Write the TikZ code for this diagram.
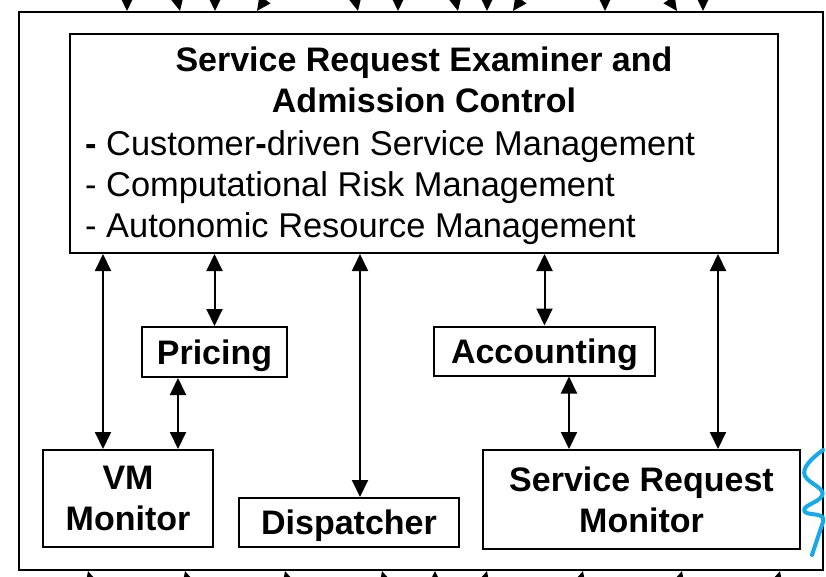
\documentclass[tikz,border=0pt]{standalone}
\usepackage{fontspec}
\setmainfont{Liberation Sans}
\usepackage{tikz}
\usetikzlibrary{arrows.meta,calc}
\definecolor{penblue}{RGB}{20,170,235}
\newcommand{\bigtext}{\fontsize{34}{41}\selectfont}
\tikzset{
  unit/.style={rectangle,draw,line width=2pt,align=center,
    inner sep=0pt,font=\bigtext\bfseries},
  oneline/.style={text height=24.5pt,text depth=0pt},
  frame/.style={rectangle,draw,line width=2pt,inner sep=0pt},
  plain/.style={inner sep=0pt,font=\bigtext},
  twoway/.style={{Triangle[length=17pt,width=16pt]}-{Triangle[length=17pt,width=16pt]},
    line width=2pt},
  stub/.style={-{Triangle[length=14pt,width=13pt]},line width=2pt},
  scribble/.style={draw=penblue,line width=4pt,line cap=round,line join=round},
}

\begin{document}
\begin{tikzpicture}[x=1pt,y=-1pt]
\useasboundingbox (0,0) rectangle (826,577);
\clip (0,0) rectangle (826,577);
% outer frame
\node[frame,minimum width=804pt,minimum height=558pt] (outer) at (421,291) {};

% main box
\node[unit,minimum width=708pt,minimum height=219pt] (examiner) at (424,143.5) {};
\node[plain,font=\bigtext\bfseries,align=center] (title) at (424,80) {Service Request Examiner and\\Admission Control};
\node[plain,font=\fontsize{34.4}{41}\selectfont,align=left,anchor=west] (tasks) at (85,188)
  {\textbf{-} Customer\textbf{-}driven Service Management\\- Computational Risk Management\\- Autonomic Resource Management};

% components
\node[unit,oneline,minimum width=145pt,minimum height=50pt] (pricing) at (214.5,352) {Pricing};
\node[unit,oneline,minimum width=221pt,minimum height=49pt] (accounting) at (544.5,351) {Accounting};
\node[unit,minimum width=170pt,minimum height=97pt] (vmmon) at (128,498.5) {VM\\Monitor};
\node[unit,oneline,minimum width=220pt,minimum height=49pt] (dispatcher) at (349,522.5) {Dispatcher};
\node[unit,minimum width=317pt,minimum height=99pt] (srmon) at (641.5,499.5) {Service Request\\Monitor};

\foreach \lo/\dx/\up in {vmmon/-25/examiner,pricing/0/examiner,vmmon/50/pricing,
    dispatcher/11/examiner,accounting/0/examiner,srmon/-72.5/accounting,srmon/76.5/examiner}{
  \coordinate (lo) at ([xshift=\dx pt]\lo.north);
  \draw[twoway] (lo) -- (lo |- \up.south);
}

% cut-off arrows at the frame edges
\foreach \x/\dx [count=\i] in {127/0,180/-8,215/0,257/25,358/-8,398/0,
    458/-8,487/0,513/25,605/0,677/-25,703/0}{
  \coordinate (t\i) at (\x,11);
  \draw[stub] ($(t\i)+(\dx,-36)$) -- (t\i);
}
\foreach \x/\dx [count=\i] in {88/10,185/10,285/10,382/10,435/0,487/-10,583/-10,682/-10,780/-10}{
  \coordinate (b\i) at (\x,571);
  \draw[stub] ($(b\i)+(\dx,36)$) -- (b\i);
}

% pen mark
\draw[scribble] (823,450) .. controls (812,458) and (801,468) .. (805,476)
  .. controls (809,484) and (826,488) .. (822,496)
  .. controls (818,503) and (800,506) .. (805,512)
  .. controls (810,516) and (826,512) .. (823,522)
  -- (812,555);
\end{tikzpicture}
\end{document}
